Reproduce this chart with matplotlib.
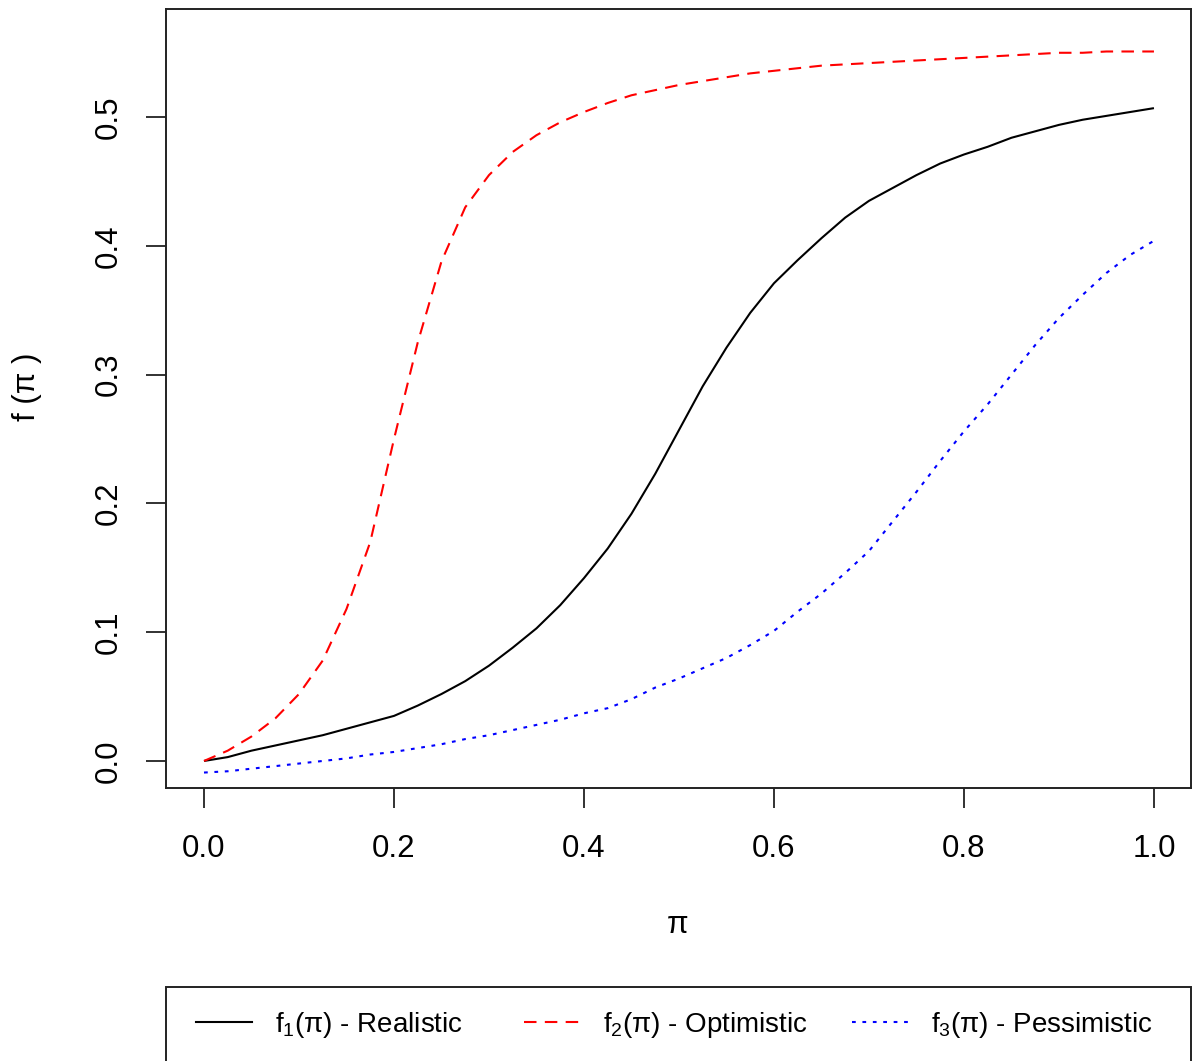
import numpy as np
import matplotlib
matplotlib.use('Agg')
import matplotlib.pyplot as plt
from matplotlib.lines import Line2D
from matplotlib.patches import Rectangle

plt.rcParams['font.family'] = ['Liberation Sans', 'DejaVu Sans']
plt.rcParams['mathtext.fontset'] = 'custom'
plt.rcParams['mathtext.rm'] = 'Liberation Sans'
plt.rcParams['mathtext.default'] = 'regular'

# pi grid
pi = np.array([0.0, 0.025, 0.05, 0.075, 0.1, 0.125, 0.15, 0.175, 0.2, 0.225,
               0.25, 0.275, 0.3, 0.325, 0.35, 0.375, 0.4, 0.425, 0.45, 0.475,
               0.5, 0.525, 0.55, 0.575, 0.6, 0.625, 0.65, 0.675, 0.7, 0.725,
               0.75, 0.775, 0.8, 0.825, 0.85, 0.875, 0.9, 0.925, 0.95, 0.975, 1.0])

# f1 - realistic
f_real = [0.0, 0.003, 0.008, 0.012, 0.016, 0.020, 0.025, 0.030, 0.035, 0.043,
          0.052, 0.062, 0.074, 0.088, 0.103, 0.121, 0.142, 0.165, 0.192, 0.223,
          0.257, 0.291, 0.321, 0.348, 0.371, 0.389, 0.406, 0.422, 0.435, 0.445,
          0.455, 0.464, 0.471, 0.477, 0.484, 0.489, 0.494, 0.498, 0.501, 0.504, 0.507]

# f2 - optimistic
f_opt = [0.0, 0.008, 0.019, 0.033, 0.052, 0.078, 0.118, 0.170, 0.250, 0.325,
         0.388, 0.430, 0.455, 0.473, 0.486, 0.496, 0.504, 0.511, 0.517, 0.521,
         0.525, 0.528, 0.531, 0.534, 0.536, 0.538, 0.540, 0.541, 0.542, 0.543,
         0.544, 0.545, 0.546, 0.547, 0.548, 0.549, 0.550, 0.550, 0.551, 0.551, 0.551]

# f3 - pessimistic
f_pess = [-0.009, -0.008, -0.006, -0.004, -0.002, 0.000, 0.002, 0.005, 0.007, 0.010,
          0.013, 0.017, 0.020, 0.024, 0.028, 0.032, 0.037, 0.041, 0.048, 0.057,
          0.064, 0.072, 0.080, 0.090, 0.101, 0.116, 0.130, 0.146, 0.163, 0.186,
          0.209, 0.233, 0.256, 0.277, 0.300, 0.323, 0.344, 0.362, 0.379, 0.393, 0.404]

labels = ['f$_1$(π) - Realistic', 'f$_2$(π) - Optimistic', 'f$_3$(π) - Pessimistic']
xticks = [0.0, 0.2, 0.4, 0.6, 0.8, 1.0]
yticks = [0.0, 0.1, 0.2, 0.3, 0.4, 0.5]

W, H = 1195, 1061
fig = plt.figure(figsize=(W / 100, H / 100), dpi=100)
ax = fig.add_axes([166 / W, 1 - 788 / H, (1191 - 166) / W, (788 - 9) / H])

lw = 1.5
ax.plot(pi, f_real, color='black', lw=lw, solid_capstyle='butt')
ax.plot(pi, f_opt, color='#FF0000', lw=lw, dashes=(6, 4))
ax.plot(pi, f_pess, color='#0000FF', lw=lw, dashes=(1.8, 3.2))

ax.set_xlim(-0.04, 1.039)
ax.set_ylim(-0.021, 0.584)
ax.set_xticks(xticks)
ax.set_xticklabels(['%.1f' % v for v in xticks])
ax.set_yticks(yticks)
ax.set_yticklabels(['%.1f' % v for v in yticks], rotation=90, va='center')
ax.tick_params(axis='both', length=14.4, width=1.3, labelsize=22.5, color='#222222')
ax.tick_params(axis='x', pad=19)
ax.tick_params(axis='y', pad=16)
for s in ax.spines.values():
    s.set_linewidth(1.4)
    s.set_color('#222222')

fig.text(27 / W, 1 - 387 / H, 'f (π )', rotation=90, ha='center', va='center', fontsize=22.5)
fig.text(678 / W, 1 - 925 / H, 'π', ha='center', va='center', fontsize=22.5)

# legend box below the plot
fig.patches.append(Rectangle((166 / W, 1 - 1063 / H), (1191 - 166) / W, (1063 - 987) / H,
                             transform=fig.transFigure, fill=False, lw=1.4,
                             edgecolor='#222222'))
handles = [Line2D([], [], color='black', lw=lw),
           Line2D([], [], color='#FF0000', lw=lw, dashes=(6, 4)),
           Line2D([], [], color='#0000FF', lw=lw, dashes=(1.8, 3.2))]
starts = [196, 524, 852]
for h, lab, x0 in zip(handles, labels, starts):
    fig.legend([h], [lab], loc='center left', bbox_to_anchor=(x0 / W, 1 - 1025 / H),
               frameon=False, borderpad=0, borderaxespad=0, handlelength=2.0,
               handletextpad=0.85, fontsize=20)

fig.savefig('out.png', dpi=100)
